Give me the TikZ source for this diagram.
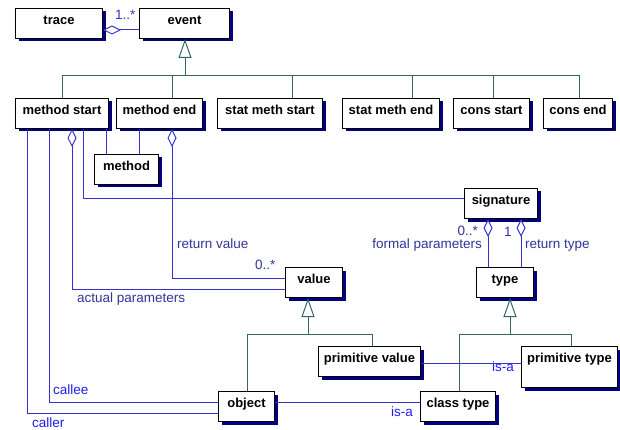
\documentclass[tikz,border=0pt]{standalone}
\usepackage{fontspec}
\setmainfont{Liberation Sans}
\usepackage{xcolor}
\usetikzlibrary{arrows.meta}
\usetikzlibrary{shadows}
\definecolor{assocblue}{RGB}{51,51,204}
\definecolor{lbldark}{RGB}{51,51,153}
\definecolor{lblbright}{RGB}{30,30,235}
\definecolor{inhteal}{RGB}{51,102,102}
\definecolor{shadownavy}{RGB}{0,0,128}

\begin{document}
\begin{tikzpicture}[x=1pt, y=-1pt,
    cls/.style={draw, line width=1pt, fill=white, anchor=north west,
      font=\bfseries\fontsize{13}{15}\selectfont,
      inner xsep=0pt, inner ysep=3pt, text height=13pt, text depth=11pt,
      drop shadow={shadow xshift=3pt, shadow yshift=-3pt, fill=shadownavy, opacity=1}},
    assoc/.style={draw=assocblue, line width=1pt},
    inh/.style={draw=inhteal, line width=1pt},
    lbl/.style={inner sep=0pt, font=\fontsize{13.5}{15}\selectfont, text=lbldark},
    agg/.style={{Diamond[length=18pt, width=9pt, fill=white]}-},
    gen/.style={-{Triangle[length=19pt, width=13pt, fill=white]}}]
  \useasboundingbox (0,0) rectangle (620,430);

  % classes
  \node[cls, minimum width=87pt]  (trace)     at (15,8)    {trace};
  \node[cls, minimum width=90pt]  (event)     at (139,8)   {event};
  \node[cls, minimum width=93pt]  (mstart)    at (15,98)   {method start};
  \node[cls, minimum width=86pt]  (mend)      at (116,98)  {method end};
  \node[cls, minimum width=105pt] (smstart)   at (217,98)  {stat meth start};
  \node[cls, minimum width=97pt]  (smend)     at (342,98)  {stat meth end};
  \node[cls, minimum width=76pt]  (cstart)    at (453,98)  {cons start};
  \node[cls, minimum width=69pt]  (cend)      at (543,98)  {cons end};
  \node[cls, minimum width=64pt]  (method)    at (94,154)  {method};
  \node[cls, minimum width=73pt]  (signature) at (464,188) {signature};
  \node[cls, minimum width=57pt]  (value)     at (285,267) {value};
  \node[cls, minimum width=57pt]  (type)      at (476,267) {type};
  \node[cls, minimum width=102pt] (primval)   at (318,346) {primitive value};
  \node[cls, minimum width=96pt, text depth=22pt] (primtype) at (521,346) {primitive type};
  \node[cls, minimum width=56pt]  (object)    at (218,391) {object};
  \node[cls, minimum width=75pt]  (classtype) at (420,391) {class type};

  % generalizations
  \coordinate (evbar) at (185,76);
  \coordinate (valbar) at (308,334);
  \coordinate (typebar) at (510,334);
  \draw[inh] (mstart.north -| 62,0) |- (evbar);
  \draw[inh] (mend.north -| 172,0) |- (evbar);
  \draw[inh] (smstart.north -| 292,0) |- (evbar);
  \draw[inh] (smend.north -| 412,0) |- (evbar);
  \draw[inh] (cstart.north -| 493,0) |- (evbar);
  \draw[inh] (cend.north -| 579,0) |- (evbar);
  \draw[inh, gen] (evbar) -- (event.south -| 185,0);

  \draw[inh] (object.north -| 247,0) |- (valbar);
  \draw[inh] (primval.north -| 372,0) |- (valbar);
  \draw[inh, gen] (valbar) -- (value.south -| 308,0);

  \draw[inh] (classtype.north -| 459,0) |- (typebar);
  \draw[inh] (primtype.north -| 571,0) |- (typebar);
  \draw[inh, gen] (typebar) -- (type.south -| 510,0);

  % associations
  \draw[assoc, agg] (trace.east |- 0,30) -- (event.west |- 0,30);
  \draw[assoc] (mstart.south -| 106,0) -- (method.north -| 106,0);
  \draw[assoc] (mend.south -| 139,0) -- (method.north -| 139,0);
  \draw[assoc] (mstart.south -| 83,0) |- (signature.west |- 0,199);
  \draw[assoc, agg] (mstart.south -| 72,0) |- (value.west |- 0,289);
  \draw[assoc, agg] (mend.south -| 172,0) |- (value.west |- 0,278);
  \draw[assoc] (mstart.south -| 27,0) |- (object.west |- 0,413);
  \draw[assoc] (mstart.south -| 49,0) |- (object.west |- 0,402);
  \draw[assoc] (object.east |- 0,402) -- (classtype.west |- 0,402);
  \draw[assoc] (primval.east |- 0,363) -- (primtype.west |- 0,363);
  \draw[assoc, agg] (signature.south -| 488,0) -- (type.north -| 488,0);
  \draw[assoc, agg] (signature.south -| 521,0) -- (type.north -| 521,0);

  % role labels
  \node[lbl, text=assocblue, anchor=base west] (ltrace) at (115,20) {1..*};
  \node[lbl, anchor=base west] (lretval) at (177,248) {return value};
  \node[lbl, anchor=base west] (lretmul) at (255,269) {0..*};
  \node[lbl, anchor=base west] (lactual) at (77,302) {actual parameters};
  \node[lbl, text=lblbright, anchor=base west] (lcallee) at (53,394) {callee};
  \node[lbl, text=lblbright, anchor=base west] (lcaller) at (32,427) {caller};
  \node[lbl, text=lblbright, anchor=base west] (lisa1) at (391,416) {is-a};
  \node[lbl, text=lblbright, anchor=base west] (lisa2) at (492,371) {is-a};
  \node[lbl, anchor=base east] (lformmul) at (478,235) {0..*};
  \node[lbl, anchor=base east] (lformal) at (482,248) {formal parameters};
  \node[lbl, anchor=base west] (lrettmul) at (504,236) {1};
  \node[lbl, anchor=base west] (lrettype) at (525,248) {return type};
\end{tikzpicture}
\end{document}
